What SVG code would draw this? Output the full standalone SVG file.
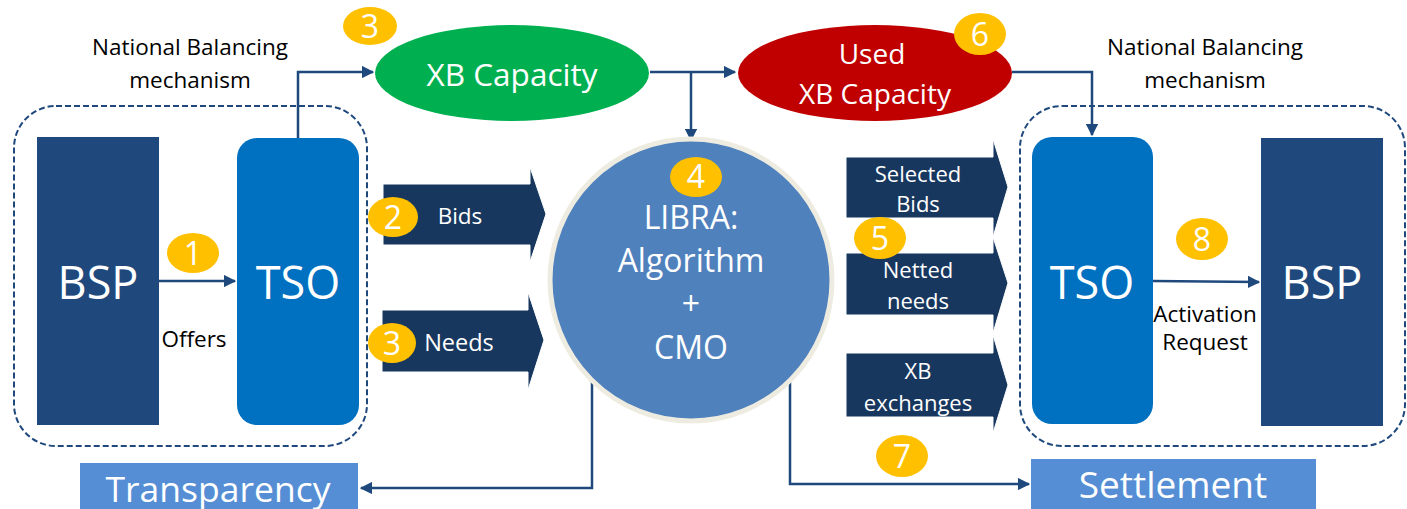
<svg xmlns="http://www.w3.org/2000/svg" width="1407" height="509" viewBox="0 0 1407 509">
<defs>
<style>
text{font-family:"Open Sans","Liberation Sans",sans-serif;text-anchor:middle}
.lbl{fill:#000;font-size:22.5px}
.w{fill:#fff}
.badge{fill:#FFC000}
.bt{fill:#fff;font-size:32px}
.conn{fill:none;stroke:#1F497D;stroke-width:2.5}
.dash{fill:none;stroke:#1F497D;stroke-width:2;stroke-dasharray:6 3}
.bsp{fill:#1F497D}
.tso{fill:#0070C0}
.arr{fill:#17375E;stroke:#fff;stroke-width:1}
.box{fill:#558ED5}
</style>
<marker id="ah" viewBox="0 0 10 10" refX="9" refY="5" markerWidth="5" markerHeight="5" orient="auto" markerUnits="strokeWidth">
<path d="M0,0 L10,5 L0,10 z" fill="#1F497D"/>
</marker>
</defs>
<rect width="1407" height="509" fill="#fff"/>

<g id="left-group">
<rect class="dash" x="14" y="106" width="353" height="340" rx="42"/>
<text class="lbl" x="190" y="55" font-size="25">National Balancing</text>
<text class="lbl" x="190" y="88" font-size="25">mechanism</text>
</g>
<g id="right-group">
<rect class="dash" x="1020" y="106" width="385" height="340" rx="42"/>
<text class="lbl" x="1205" y="55" font-size="25">National Balancing</text>
<text class="lbl" x="1205" y="88" font-size="25">mechanism</text>
</g>

<g id="connectors">
<path class="conn" d="M159,281 L235,281" marker-end="url(#ah)"/>
<path class="conn" d="M298,138 L298,72 L373,72" marker-end="url(#ah)"/>
<path class="conn" d="M650,72 L735,72" marker-end="url(#ah)"/>
<path class="conn" d="M691,72 L691,140" marker-end="url(#ah)"/>
<path class="conn" d="M1012,72 L1092,72 L1092,135" marker-end="url(#ah)"/>
<path class="conn" d="M1153,281 L1259,282" marker-end="url(#ah)"/>
<path class="conn" d="M592,378 L592,488 L361,488" marker-end="url(#ah)"/>
<path class="conn" d="M790,378 L790,484 L1029,484" marker-end="url(#ah)"/>
</g>

<g id="bsp-left">
<rect class="bsp" x="37" y="137" width="122" height="288"/>
<text class="w" x="98" y="299" font-size="45">BSP</text>
</g>
<g id="tso-left">
<rect class="tso" x="237" y="138" width="122" height="287" rx="20"/>
<text class="w" x="298" y="299" font-size="45">TSO</text>
</g>
<g id="offers-label"><text class="lbl" x="194" y="347">Offers</text></g>

<g id="xb-capacity">
<ellipse cx="512" cy="73" rx="137" ry="48" fill="#00B050"/>
<text class="w" x="512" y="86" font-size="31.5">XB Capacity</text>
</g>
<g id="used-xb-capacity">
<ellipse cx="875" cy="73" rx="137" ry="48" fill="#C00000"/>
<text class="w" x="872" y="64" font-size="28">Used</text>
<text class="w" x="875" y="104" font-size="28">XB Capacity</text>
</g>

<g id="libra">
<circle cx="691" cy="280" r="141" fill="#4F81BD" stroke="#EEECE1" stroke-width="5"/>
<text class="w" x="691" y="229" font-size="32">LIBRA:</text>
<text class="w" x="691" y="272" font-size="32">Algorithm</text>
<text class="w" x="691" y="315" font-size="32">+</text>
<text class="w" x="691" y="359" font-size="32">CMO</text>
</g>

<g id="bids-arrow">
<path class="arr" d="M383,184 L530,184 L530,167 L546,214 L530,262 L530,245 L383,245 z"/>
<text class="w" x="460" y="224" font-size="22.5">Bids</text>
</g>
<g id="needs-arrow">
<path class="arr" d="M382,310 L528,310 L528,292 L544,340 L528,390 L528,372 L382,372 z"/>
<text class="w" x="459" y="351" font-size="23.5">Needs</text>
</g>

<g id="selected-bids-arrow">
<path class="arr" d="M846,157 L993,157 L993,139 L1008,187 L993,237 L993,218 L846,218 z"/>
<text class="w" x="918" y="182" font-size="22">Selected</text>
<text class="w" x="918" y="212" font-size="22">Bids</text>
</g>
<g id="netted-needs-arrow">
<path class="arr" d="M846,253 L993,253 L993,237 L1008,283 L993,333 L993,315 L846,315 z"/>
<text class="w" x="918" y="278" font-size="22">Netted</text>
<text class="w" x="918" y="309" font-size="22">needs</text>
</g>
<g id="xb-exchanges-arrow">
<path class="arr" d="M846,353 L993,353 L993,335 L1008,385 L993,433 L993,417 L846,417 z"/>
<text class="w" x="918" y="379" font-size="22">XB</text>
<text class="w" x="918" y="411" font-size="22">exchanges</text>
</g>

<g id="tso-right">
<rect class="tso" x="1032" y="137" width="121" height="287" rx="20"/>
<text class="w" x="1092" y="299" font-size="45">TSO</text>
</g>
<g id="bsp-right">
<rect class="bsp" x="1261" y="138" width="122" height="288"/>
<text class="w" x="1322" y="299" font-size="45">BSP</text>
</g>
<g id="activation-label">
<text class="lbl" x="1205" y="322" font-size="18">Activation</text>
<text class="lbl" x="1205" y="350" font-size="18">Request</text>
</g>

<g id="transparency">
<rect class="box" x="80" y="463" width="278" height="46"/>
<text class="w" x="218" y="502" font-size="35.5">Transparency</text>
</g>
<g id="settlement">
<rect class="box" x="1031" y="459" width="285" height="50"/>
<text class="w" x="1173" y="498" font-size="37">Settlement</text>
</g>

<g id="badges">
<ellipse class="badge" cx="193" cy="253" rx="26" ry="20"/><text class="bt" x="193" y="265">1</text>
<ellipse class="badge" cx="393" cy="217" rx="25" ry="20"/><text class="bt" x="393" y="229">2</text>
<ellipse class="badge" cx="370" cy="26" rx="27" ry="19"/><text class="bt" x="370" y="38">3</text>
<ellipse class="badge" cx="392" cy="343" rx="24" ry="20"/><text class="bt" x="392" y="355">3</text>
<ellipse class="badge" cx="696" cy="177" rx="26" ry="20"/><text class="bt" x="696" y="188">4</text>
<ellipse class="badge" cx="880" cy="238" rx="26" ry="21"/><text class="bt" x="880" y="250">5</text>
<ellipse class="badge" cx="980" cy="34" rx="26" ry="21"/><text class="bt" x="980" y="46">6</text>
<ellipse class="badge" cx="902" cy="456" rx="26" ry="21"/><text class="bt" x="902" y="468">7</text>
<ellipse class="badge" cx="1202" cy="239" rx="26" ry="21"/><text class="bt" x="1202" y="251">8</text>
</g>
</svg>
